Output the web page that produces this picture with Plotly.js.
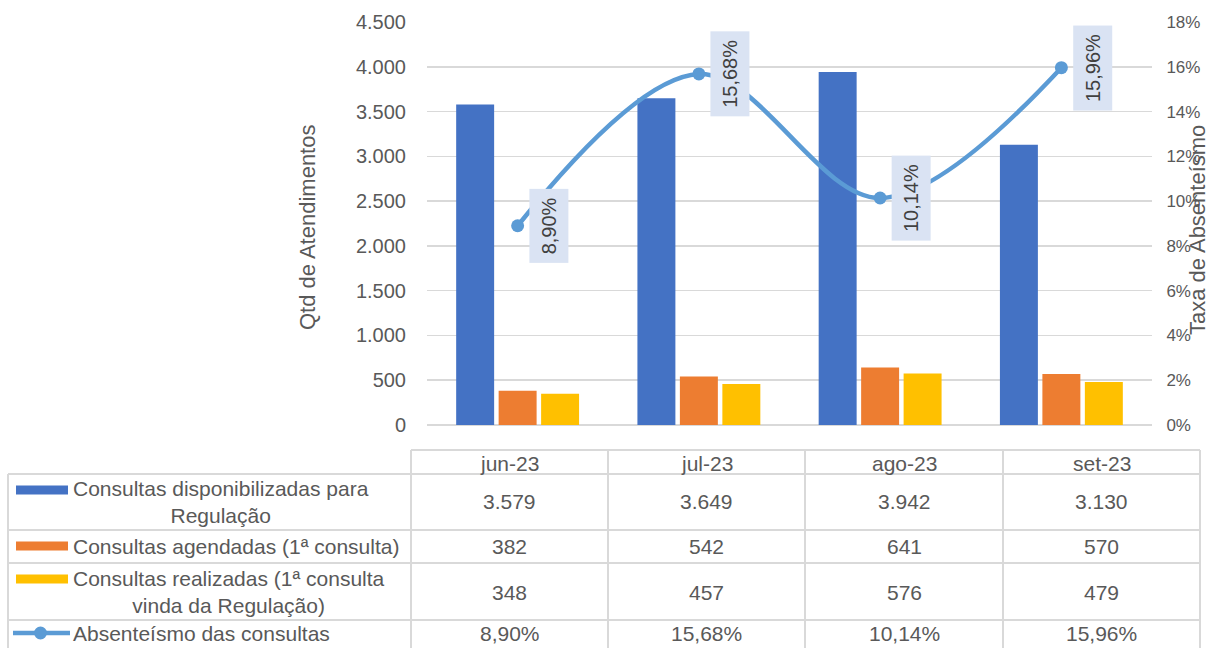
<!DOCTYPE html>
<html>
<head>
<meta charset="utf-8">
<script src="https://cdn.plot.ly/plotly-3.0.1.min.js"></script>
<style>html,body{margin:0;padding:0;background:#fff;}#chart{width:1210px;height:648px;}</style>
</head>
<body>
<div id="chart"></div>
<script>
// ---- data ----
const months = ['jun-23', 'jul-23', 'ago-23', 'set-23'];
const disponibilizadas = [3579, 3649, 3942, 3130];
const agendadas = [382, 542, 641, 570];
const realizadas = [348, 457, 576, 479];
const absenteismo = [0.0890, 0.1568, 0.1014, 0.1596];
const seriesNames = [
  'Consultas disponibilizadas para<br>Regulação',
  'Consultas agendadas (1ª consulta)',
  'Consultas realizadas (1ª consulta<br>vinda da Regulação)',
  'Absenteísmo das consultas'
];
const leftTitle = 'Qtd de Atendimentos';
const rightTitle = 'Taxa de Absenteísmo';

// ---- style ----
const C_BLUE = '#4472C4', C_ORANGE = '#ED7D31', C_YELLOW = '#FFC000', C_LINE = '#5B9BD5';
const TXT = '#595959', GRID = '#D9D9D9', FONT = 'Liberation Sans, Arial, sans-serif';
const FS = 20, FS_TABLE = 21, FS_TITLE = 22;

const fmtInt = n => String(n).replace(/\B(?=(\d{3})+(?!\d))/g, '.');
const fmtPct = v => (v * 100).toFixed(2).replace('.', ',') + '%';

// plot area in pixels
const W = 1210, H = 648;
const L = 427, R = 1152, T = 22, B = 425;
const PW = R - L, PH = B - T;
const px = x => (x - L) / PW;
const py = y => (B - y) / PH;

const traces = [
  {type: 'bar', x: months, y: disponibilizadas, name: seriesNames[0], marker: {color: C_BLUE}, hoverinfo: 'skip'},
  {type: 'bar', x: months, y: agendadas, name: seriesNames[1], marker: {color: C_ORANGE}, hoverinfo: 'skip'},
  {type: 'bar', x: months, y: realizadas, name: seriesNames[2], marker: {color: C_YELLOW}, hoverinfo: 'skip'},
  {type: 'scatter', mode: 'lines+markers', x: months, y: absenteismo, yaxis: 'y2', name: seriesNames[3],
   line: {color: C_LINE, width: 4.5, shape: 'spline', smoothing: 1}, marker: {color: C_LINE, size: 13}, hoverinfo: 'skip', cliponaxis: false}
];

const shapes = [];
const annotations = [];
const lineStyle = {color: GRID, width: 2};
function hline(x0, x1, y) { shapes.push({type: 'line', xref: 'paper', yref: 'paper', x0: px(x0), x1: px(x1), y0: py(y), y1: py(y), line: lineStyle, layer: 'above'}); }
function vline(x, y0, y1) { shapes.push({type: 'line', xref: 'paper', yref: 'paper', x0: px(x), x1: px(x), y0: py(y0), y1: py(y1), line: lineStyle, layer: 'above'}); }
function text(t, x, y, xanchor, extra) {
  annotations.push(Object.assign({text: t, xref: 'paper', yref: 'paper', x: px(x), y: py(y), xanchor: xanchor || 'center', yanchor: 'middle',
    showarrow: false, align: 'center', font: {family: FONT, size: FS_TABLE, color: TXT}}, extra || {}));
}

// ---- table geometry (pixels) ----
const colX = [8, 411, 608, 805, 1003, 1200];
const rowY = [450, 474, 530, 563, 620, 660];
hline(colX[1], colX[5], rowY[0]);
for (let i = 1; i < rowY.length - 1; i++) hline(colX[0], colX[5], rowY[i]);
vline(colX[0], rowY[1], rowY[5]);
for (let j = 1; j < colX.length; j++) vline(colX[j], rowY[0], rowY[5]);

// header
months.forEach((m, j) => text(m, (colX[j + 1] + colX[j + 2]) / 2, (rowY[0] + rowY[1]) / 2 + 1));
// rows
const rowVals = [disponibilizadas.map(fmtInt), agendadas.map(fmtInt), realizadas.map(fmtInt), absenteismo.map(fmtPct)];
const rowColors = [C_BLUE, C_ORANGE, C_YELLOW, C_LINE];
const rowTextY = [502, 546, 592, 633];
const keyY = [490, 546, 579, 633];
rowVals.forEach((vals, i) => {
  vals.forEach((v, j) => text(v, (colX[j + 1] + colX[j + 2]) / 2, rowTextY[i]));
  text(seriesNames[i], 71, rowTextY[i], 'left', {align: 'center'});
  if (i < 3) {
    shapes.push({type: 'rect', xref: 'paper', yref: 'paper', x0: px(16), x1: px(68), y0: py(keyY[i] - 4.5), y1: py(keyY[i] + 4.5),
      fillcolor: rowColors[i], line: {width: 0}});
  } else {
    shapes.push({type: 'line', xref: 'paper', yref: 'paper', x0: px(13), x1: px(70), y0: py(keyY[i]), y1: py(keyY[i]), line: {color: C_LINE, width: 4.5}});
    shapes.push({type: 'circle', xref: 'paper', yref: 'paper', x0: px(34), x1: px(47), y0: py(keyY[i] - 6.5), y1: py(keyY[i] + 6.5), fillcolor: C_LINE, line: {width: 0}});
  }
});

// data labels for line
absenteismo.forEach((v, j) => {
  annotations.push({text: fmtPct(v), x: months[j], y: v, xref: 'x', yref: 'y2', xshift: 31, yanchor: 'middle', xanchor: 'center',
    showarrow: false, textangle: -90, bgcolor: '#DAE3F3', borderpad: 8, font: {family: FONT, size: FS, color: '#404040'}});
});

// axis titles
text(leftTitle, 308, 228, 'center', {textangle: -90, font: {family: FONT, size: FS_TITLE, color: TXT}});
text(rightTitle, 1197, 230, 'center', {textangle: -90, font: {family: FONT, size: FS_TITLE, color: TXT}});

const layout = {
  width: W, height: H,
  margin: {l: L, r: W - R, t: T, b: H - B, pad: 0},
  paper_bgcolor: '#fff', plot_bgcolor: '#fff',
  separators: ',.',
  showlegend: false,
  barmode: 'group', bargap: 0.297, bargroupgap: 0.106,
  font: {family: FONT, size: FS, color: TXT},
  xaxis: {showticklabels: false, showgrid: false, zeroline: false, showline: false, ticks: ''},
  yaxis: {range: [0, 4500], dtick: 500, tickformat: ',.0f', showgrid: true, gridcolor: GRID, gridwidth: 1.5,
          zeroline: true, zerolinecolor: GRID, zerolinewidth: 1.5, ticks: 'outside', ticklen: 16, tickcolor: 'rgba(0,0,0,0)',
          tickfont: {family: FONT, size: FS, color: TXT}},
  yaxis2: {range: [0, 0.18], dtick: 0.02, tickformat: '.0%', overlaying: 'y', side: 'right', showgrid: false, zeroline: false,
           ticks: 'outside', ticklen: 10, tickcolor: 'rgba(0,0,0,0)', tickfont: {family: FONT, size: 17, color: TXT}},
  shapes: shapes,
  annotations: annotations
};

Plotly.newPlot('chart', traces, layout, {displayModeBar: false, staticPlot: true});
</script>
</body>
</html>
